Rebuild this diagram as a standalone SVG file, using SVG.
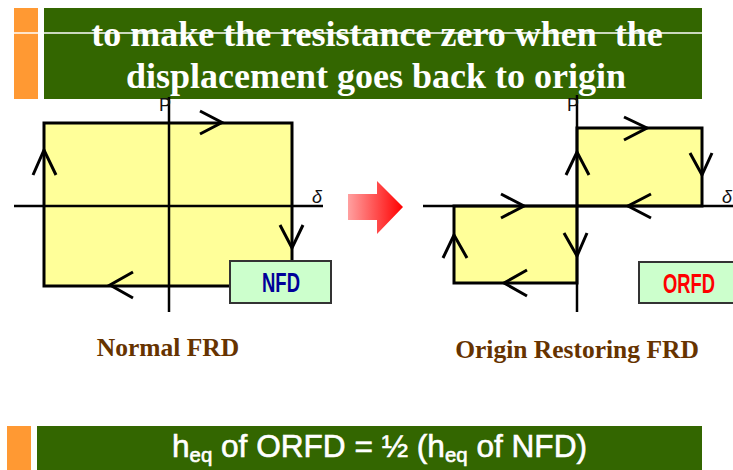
<svg xmlns="http://www.w3.org/2000/svg" width="733" height="470" viewBox="0 0 733 470">
<style>
.band{fill:#336600}
.accent{fill:#ff9933}
.title{font-family:"Liberation Serif",serif;font-weight:bold;font-size:36px;fill:#ffffff;text-anchor:middle;white-space:pre}
.line{stroke:#000;stroke-width:3;fill:none;stroke-linecap:butt;stroke-linejoin:miter}
.axis{stroke:#000;stroke-width:2.5;fill:none}
.loop{fill:#ffff99;stroke:#000;stroke-width:3}
.tag{fill:#ccffcc;stroke:#333;stroke-width:2}
.tagtxt{font-family:"Liberation Sans",sans-serif;font-weight:bold;font-size:28px;text-anchor:middle}
.ax{font-family:"Liberation Sans",sans-serif;font-size:18px;fill:#111}
.cap{font-family:"Liberation Serif",serif;font-weight:bold;font-size:25.5px;fill:#663300;text-anchor:middle}
.bottom{font-family:"Liberation Sans",sans-serif;font-size:31px;fill:#ffffff;stroke:#ffffff;stroke-width:0.6}
</style>
<defs>
<linearGradient id="redgrad" x1="0" y1="0" x2="1" y2="0">
<stop offset="0" stop-color="#ffa0a0"/>
<stop offset="1" stop-color="#ff0000"/>
</linearGradient>
</defs>

<g id="title-banner">
<rect class="accent" x="14" y="8" width="24" height="91"/>
<rect class="band" x="44" y="8" width="658" height="91"/>
<line x1="14" y1="33" x2="702" y2="33" stroke="#ffffff" stroke-width="1.5"/>
<text class="title" x="377" y="46">to make the resistance zero when  the</text>
<text class="title" x="376" y="88">displacement goes back to origin</text>
</g>

<g id="nfd-diagram">
<rect class="loop" x="44" y="123" width="248" height="163"/>
<line class="axis" x1="14" y1="206" x2="323" y2="206"/>
<line class="axis" x1="169" y1="97" x2="169" y2="312"/>
<text class="ax" x="159" y="111">P</text>
<text class="ax" x="312" y="203" font-style="italic">δ</text>
<polyline class="line" points="200,111 222,122.5 200,134"/>
<polyline class="line" points="33,175 44,150 56,175"/>
<polyline class="line" points="280,225 292,248 303,225"/>
<polyline class="line" points="133,272 110,285 133,298"/>
</g>

<g id="nfd-tag">
<rect class="tag" x="230" y="261" width="101" height="42"/>
<text class="tagtxt" x="281" y="292" fill="#000099" textLength="38" lengthAdjust="spacingAndGlyphs">NFD</text>
</g>

<g id="transition-arrow">
<polygon points="348,194 377,194 377,181 403,207 377,234 377,220 348,220" fill="url(#redgrad)"/>
</g>

<g id="orfd-diagram">
<rect class="loop" x="577" y="128" width="125" height="78"/>
<rect class="loop" x="454" y="206" width="123" height="77"/>
<line class="axis" x1="423" y1="206" x2="733" y2="206"/>
<line class="axis" x1="577" y1="95" x2="577" y2="312"/>
<text class="ax" x="567" y="111">P</text>
<text class="ax" x="722" y="203" font-style="italic">δ</text>
<polyline class="line" points="624,117 647,128 624,140"/>
<polyline class="line" points="690,153 702,175 712,153"/>
<polyline class="line" points="651,194 628,206 651,218"/>
<polyline class="line" points="566,175 577,152 589,175"/>
<polyline class="line" points="501,194 524,206 501,218"/>
<polyline class="line" points="564,233 577,256 587,233"/>
<polyline class="line" points="527,270 504,283 527,296"/>
<polyline class="line" points="443,258 454,235 467,258"/>
</g>

<g id="orfd-tag">
<rect class="tag" x="639" y="262" width="100" height="41"/>
<text class="tagtxt" x="689" y="293" fill="#ff0000" textLength="52" lengthAdjust="spacingAndGlyphs">ORFD</text>
</g>

<g id="captions">
<text class="cap" x="168" y="356">Normal FRD</text>
<text class="cap" x="577" y="358">Origin Restoring FRD</text>
</g>

<g id="bottom-banner">
<rect class="accent" x="7" y="426" width="24" height="44"/>
<rect class="band" x="37" y="426" width="665" height="44"/>
<text class="bottom" x="172" y="457" textLength="415" lengthAdjust="spacingAndGlyphs">h<tspan font-size="20" dy="5">eq</tspan><tspan dy="-5"> of ORFD = ½ (h</tspan><tspan font-size="20" dy="5">eq</tspan><tspan dy="-5"> of NFD)</tspan></text>
</g>
</svg>
